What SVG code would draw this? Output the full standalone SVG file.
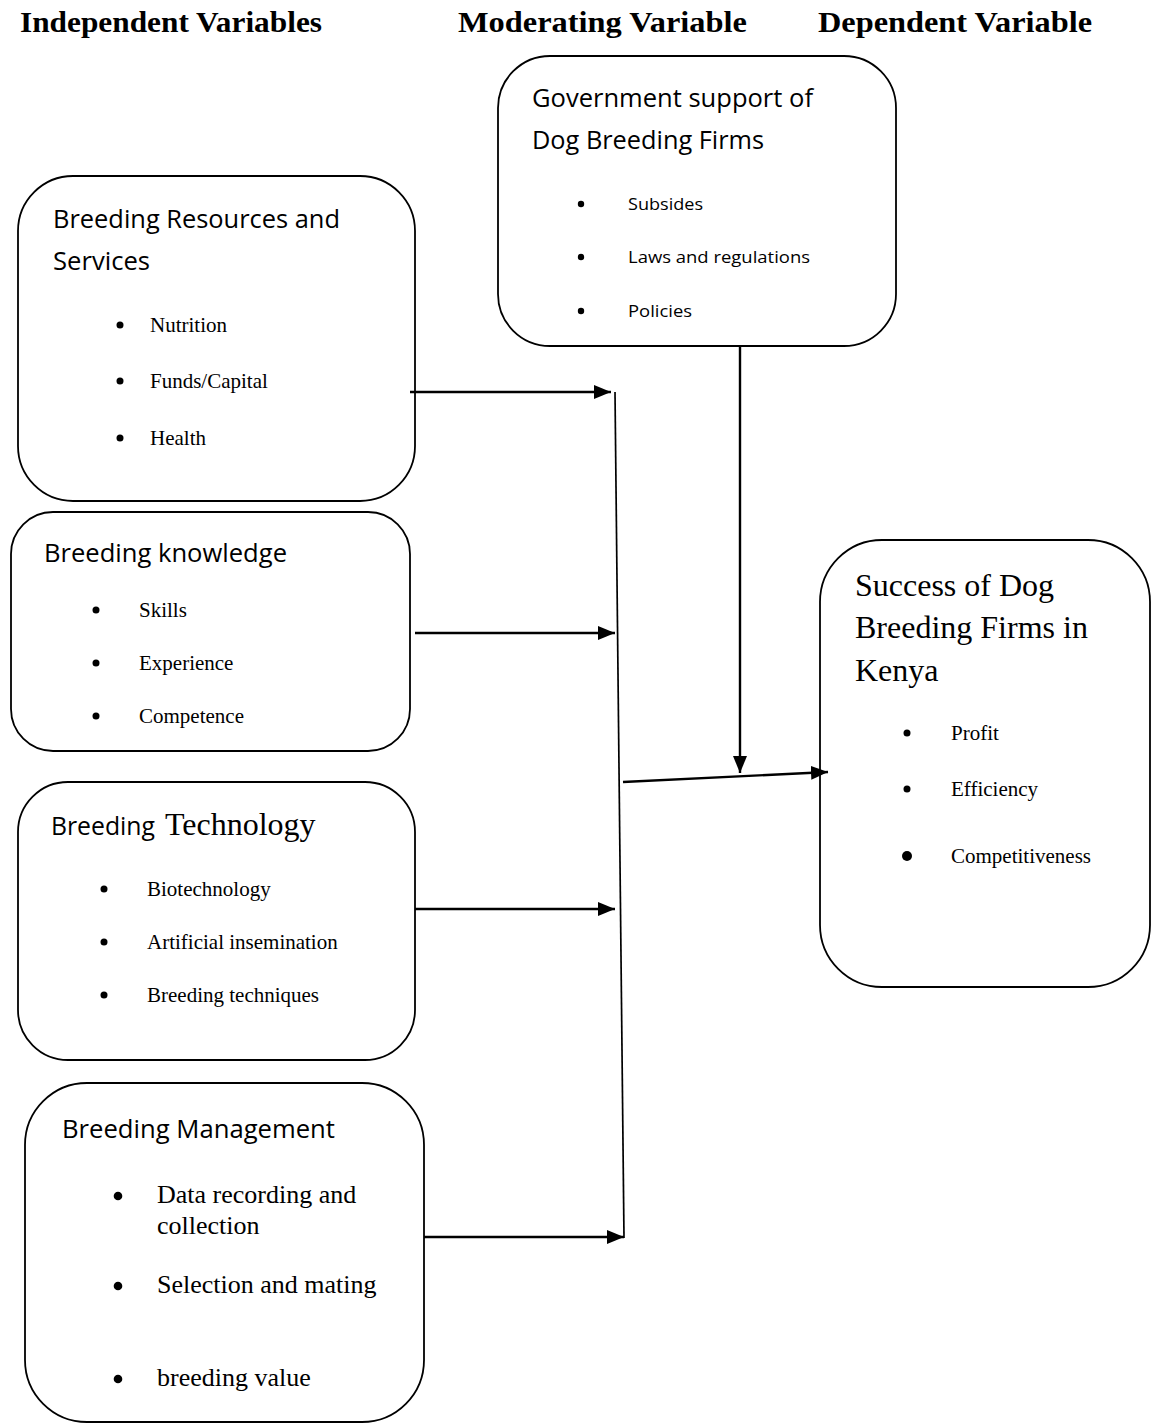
<svg xmlns="http://www.w3.org/2000/svg" width="1151" height="1425" viewBox="0 0 1151 1425">
<style>
.box{fill:#fff;stroke:#000;stroke-width:1.8}
.hdr{font-family:"Liberation Serif","Times New Roman",serif;font-weight:bold;font-size:29px;fill:#000}
.cal{font-family:"Open Sans","Noto Sans",sans-serif;font-size:25px;fill:#000}
.cals{font-family:"Open Sans","Noto Sans",sans-serif;font-size:17px;fill:#000}
.tm{font-family:"Liberation Serif","Times New Roman",serif;font-size:21px;fill:#000}
.tml{font-family:"Liberation Serif","Times New Roman",serif;font-size:26px;fill:#000}
.tmx{font-family:"Liberation Serif","Times New Roman",serif;font-size:32px;fill:#000}
.con{stroke:#000;stroke-width:2.4;fill:none}
.thin{stroke:#000;stroke-width:1.7;fill:none}
</style>
<defs>
<marker id="ah" markerUnits="userSpaceOnUse" markerWidth="20" markerHeight="18" refX="17" refY="9" orient="auto">
<path d="M0,2 L17,9 L0,16 Z" fill="#000"/>
</marker>
</defs>

<g id="headers">
<text class="hdr" x="20" y="32" textLength="302" lengthAdjust="spacingAndGlyphs">Independent Variables</text>
<text class="hdr" x="458" y="32" textLength="289" lengthAdjust="spacingAndGlyphs">Moderating Variable</text>
<text class="hdr" x="818" y="32" textLength="274" lengthAdjust="spacingAndGlyphs">Dependent Variable</text>
</g>

<g id="gov">
<rect class="box" x="498" y="56" width="398" height="290" rx="52"/>
<text class="cal" x="532" y="107" textLength="281" lengthAdjust="spacingAndGlyphs">Government support of</text>
<text class="cal" x="532" y="149" textLength="232" lengthAdjust="spacingAndGlyphs">Dog Breeding Firms</text>
<circle cx="581" cy="204" r="3.2"/>
<circle cx="581" cy="257" r="3.2"/>
<circle cx="581" cy="311" r="3.2"/>
<text class="cals" x="628" y="210" textLength="75" lengthAdjust="spacingAndGlyphs">Subsides</text>
<text class="cals" x="628" y="263" textLength="182" lengthAdjust="spacingAndGlyphs">Laws and regulations</text>
<text class="cals" x="628" y="317" textLength="64" lengthAdjust="spacingAndGlyphs">Policies</text>
</g>

<g id="resources">
<rect class="box" x="18" y="176" width="397" height="325" rx="55"/>
<text class="cal" x="53" y="228" textLength="287" lengthAdjust="spacingAndGlyphs">Breeding Resources and</text>
<text class="cal" x="53" y="270" textLength="97" lengthAdjust="spacingAndGlyphs">Services</text>
<circle cx="120" cy="325" r="3.5"/>
<circle cx="120" cy="381" r="3.5"/>
<circle cx="120" cy="438" r="3.5"/>
<text class="tm" x="150" y="332">Nutrition</text>
<text class="tm" x="150" y="388">Funds/Capital</text>
<text class="tm" x="150" y="445">Health</text>
</g>

<g id="knowledge">
<rect class="box" x="11" y="512" width="399" height="239" rx="42"/>
<text class="cal" x="44" y="562" textLength="243" lengthAdjust="spacingAndGlyphs">Breeding knowledge</text>
<circle cx="96" cy="610" r="3.5"/>
<circle cx="96" cy="663" r="3.5"/>
<circle cx="96" cy="716" r="3.5"/>
<text class="tm" x="139" y="617">Skills</text>
<text class="tm" x="139" y="670">Experience</text>
<text class="tm" x="139" y="723">Competence</text>
</g>

<g id="technology">
<rect class="box" x="18" y="782" width="397" height="278" rx="50"/>
<text x="51" y="835"><tspan class="cal" textLength="104" lengthAdjust="spacingAndGlyphs">Breeding</tspan><tspan class="tmx" x="165" font-size="30">Technology</tspan></text>
<circle cx="104" cy="889" r="3.5"/>
<circle cx="104" cy="942" r="3.5"/>
<circle cx="104" cy="995" r="3.5"/>
<text class="tm" x="147" y="896">Biotechnology</text>
<text class="tm" x="147" y="949">Artificial insemination</text>
<text class="tm" x="147" y="1002">Breeding techniques</text>
</g>

<g id="management">
<rect class="box" x="25" y="1083" width="399" height="339" rx="62"/>
<text class="cal" x="62" y="1138" textLength="273" lengthAdjust="spacingAndGlyphs">Breeding Management</text>
<circle cx="118" cy="1196" r="4.3"/>
<circle cx="118" cy="1286" r="4.3"/>
<circle cx="118" cy="1379" r="4.3"/>
<text class="tml" x="157" y="1203">Data recording and</text>
<text class="tml" x="157" y="1234">collection</text>
<text class="tml" x="157" y="1293">Selection and mating</text>
<text class="tml" x="157" y="1386">breeding value</text>
</g>

<g id="success">
<rect class="box" x="820" y="540" width="330" height="447" rx="62"/>
<text class="tmx" x="855" y="596">Success of Dog</text>
<text class="tmx" x="855" y="638">Breeding Firms in</text>
<text class="tmx" x="855" y="681">Kenya</text>
<circle cx="907" cy="733" r="3.5"/>
<circle cx="907" cy="789" r="3.5"/>
<circle cx="907" cy="856" r="5"/>
<text class="tm" x="951" y="740">Profit</text>
<text class="tm" x="951" y="796">Efficiency</text>
<text class="tm" x="951" y="863">Competitiveness</text>
</g>

<g id="connectors">
<line class="con" x1="410" y1="392" x2="611" y2="392" marker-end="url(#ah)"/>
<line class="con" x1="415" y1="633" x2="615" y2="633" marker-end="url(#ah)"/>
<line class="con" x1="415" y1="909" x2="615" y2="909" marker-end="url(#ah)"/>
<line class="con" x1="424" y1="1237" x2="624" y2="1237" marker-end="url(#ah)"/>
<line class="thin" x1="615" y1="392" x2="624" y2="1238"/>
<line class="con" x1="740" y1="346" x2="740" y2="773" marker-end="url(#ah)"/>
<line class="con" x1="623" y1="782" x2="828" y2="772" marker-end="url(#ah)"/>
</g>
</svg>
